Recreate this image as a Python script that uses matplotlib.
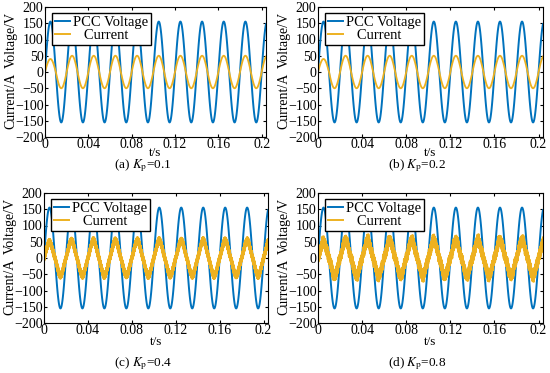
import numpy as np
import matplotlib
matplotlib.use("Agg")
import matplotlib.pyplot as plt

# ============================================================
#   DATOS
# ============================================================
panel_tags = ["(a)", "(b)", "(c)", "(d)"]
kp_values = ["0.1", "0.2", "0.4", "0.8"]

t_end = 0.204          # s (el eje termina un poco después de 0.2)
f_grid = 50.0          # Hz
v_peak = 155.0         # V, tensión PCC
i_peak = [50.0, 50.0, 50.0, 50.0]        # A, corriente fundamental
i_first_peak = [40.0, 40.0, 45.0, 45.0]  # primer semiciclo (arranque)
i_third = [0.0, 0.0, 0.08, 0.10]         # 3er armónico (forma triangular)
ripple_freqs = [1730.0, 3110.0, 9710.0, 12330.0, 15170.0]  # Hz
ripple_amps = [
    [0, 0, 0, 0, 0],
    [0, 0, 0, 0, 0],
    [0.0, 0.0, 5.0, 3.5, 2.0],
    [3.0, 3.5, 6.0, 5.0, 4.0],
]
i_lw = [1.3, 1.3, 1.6, 1.6]

yticks = [-200, -150, -100, -50, 0, 50, 100, 150, 200]
xticks = [0, 0.04, 0.08, 0.12, 0.16, 0.2]
xticklabels = ["0", "0.04", "0.08", "0.12", "0.16", "0.2"]

BLUE = "#0072BD"
ORANGE = "#EDB120"

plt.rcParams["font.family"] = ["Liberation Serif", "DejaVu Serif"]
plt.rcParams["mathtext.fontset"] = "stix"
plt.rcParams["font.size"] = 10
plt.rcParams["path.simplify"] = False   # conservar el rizado de alta frecuencia

W, H = 550, 373
fig = plt.figure(figsize=(W / 100, H / 100), dpi=100)

# posiciones en píxeles: (izq, der, arriba, abajo, dy t/s, dy pie)
boxes = [(45, 266, 7, 137, 16, 29), (318, 543, 7, 137, 16, 29),
         (44, 268, 193, 323, 19, 41), (318, 543, 193, 323, 19, 41)]

t = np.linspace(0, t_end, 40001)
w = 2 * np.pi * f_grid

for k, (l, r, top, bot, xl_dy, cap_dy) in enumerate(boxes):
    ax = fig.add_axes([l / W, 1 - bot / H, (r - l) / W, (bot - top) / H])

    v = v_peak * np.sin(w * t)
    env = np.where(t < 0.01, i_first_peak[k], i_peak[k])
    cur = env * (np.sin(w * t) - i_third[k] * np.sin(3 * w * t))
    for a, f in zip(ripple_amps[k], ripple_freqs):
        cur = cur + a * np.sin(2 * np.pi * f * t + f / 1000.0)

    ax.plot(t, v, color=BLUE, lw=1.4, label="PCC Voltage")
    ax.plot(t, cur, color=ORANGE, lw=i_lw[k], label="   Current")

    ax.set_xlim(0, t_end)
    ax.set_ylim(-200, 200)
    ax.set_yticks(yticks)
    ax.set_xticks(xticks)
    ax.set_xticklabels(xticklabels)
    ax.tick_params(direction="in", length=2.5, top=True, right=True,
                   labelsize=10, pad=1)
    for s in ax.spines.values():
        s.set_linewidth(0.8)

    leg = ax.legend(loc="upper left", bbox_to_anchor=(0.02, 0.98),
                    handlelength=1.0, handletextpad=0.2, borderpad=0.2,
                    labelspacing=0.0, fontsize=10.5, fancybox=False,
                    framealpha=1, borderaxespad=0.2)
    leg.get_frame().set_edgecolor("black")
    leg.get_frame().set_linewidth(1.0)
    for ln in leg.get_lines():
        ln.set_linewidth(1.4)

    cx = (l + r) / 2
    fig.text((l - 34) / W, 1 - (top + 33) / H, "Voltage/V", rotation=90,
             ha="center", va="center", fontsize=10)
    fig.text((l - 34) / W, 1 - (top + 94) / H, "Current/A", rotation=90,
             ha="center", va="center", fontsize=10)
    fig.text(cx / W, 1 - (bot + xl_dy) / H, "t/s", ha="center",
             va="center", fontsize=9.5)
    fig.text((cx - 13) / W, 1 - (bot + cap_dy) / H,
             panel_tags[k] + r" $K_\mathrm{p}$=" + kp_values[k],
             ha="center", va="center", fontsize=9.5)

fig.savefig("out.png", dpi=100)
